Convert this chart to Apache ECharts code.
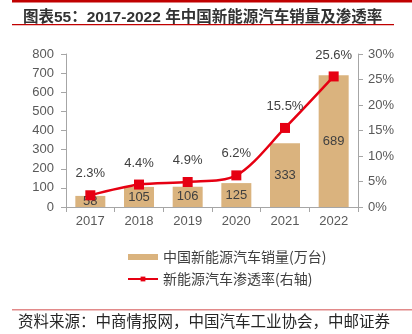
<!DOCTYPE html>
<html><head><meta charset="utf-8">
<script src="https://cdn.jsdelivr.net/npm/echarts@6/dist/echarts.min.js"></script>
<style>html,body{margin:0;padding:0;background:#fff}#c{width:412px;height:334px}</style>
</head><body><div id="c"></div>
<script>
var years = ['2017','2018','2019','2020','2021','2022'];
var sales = [58, 105, 106, 125, 333, 689];
var penetration = [2.3, 4.4, 4.9, 6.2, 15.5, 25.6];
var titleText = '图表55：2017-2022 年中国新能源汽车销量及渗透率';
var sourceText = '资料来源：中商情报网，中国汽车工业协会，中邮证券';
var salesName = '中国新能源汽车销量(万台)';
var rateName = '新能源汽车渗透率(右轴)';

var chart = echarts.init(document.getElementById('c'), null, {renderer:'canvas'});
var axisFont = {color:'#595959', fontSize:13, fontFamily:'Liberation Sans, Arial, sans-serif'};
chart.setOption({
  animation:false,
  title:{text:titleText, left:18, top:5, textStyle:{fontSize:15.5, fontWeight:'bold', color:'#333333', fontFamily:'Liberation Sans, Noto Sans CJK SC, sans-serif'}},
  graphic:[
    {type:'rect', shape:{x:12,y:0,width:400,height:2.5}, style:{fill:'#c00000'}},
    {type:'rect', shape:{x:12,y:24,width:382,height:1.2}, style:{fill:'#c00000'}},
    {type:'rect', shape:{x:12,y:309,width:400,height:1.5}, style:{fill:'#e28a8a'}},
    {type:'text', left:18, top:313, style:{text:sourceText, fontSize:15.5, fill:'#262626', fontFamily:'Noto Sans CJK SC, sans-serif'}}
  ],
  grid:{left:66, right:54, top:54, bottom:127},
  legend:{
    orient:'vertical', left:122, top:245, itemWidth:30, itemHeight:6, itemGap:8,
    textStyle:{fontSize:14, color:'#404040', fontFamily:'Noto Sans CJK SC, sans-serif'},
    data:[{name:salesName, icon:'rect'}, {name:rateName}]
  },
  xAxis:{type:'category', data:years, boundaryGap:true,
    axisLine:{lineStyle:{color:'#a6a6a6'}},
    axisTick:{show:true, alignWithLabel:false, length:5, lineStyle:{color:'#a6a6a6'}},
    axisLabel:Object.assign({margin:8}, axisFont)},
  yAxis:[
    {type:'value', min:0, max:800, interval:100, splitLine:{show:false},
     axisLine:{show:true, lineStyle:{color:'#a6a6a6'}},
     axisTick:{show:true, length:5, lineStyle:{color:'#a6a6a6'}},
     axisLabel:Object.assign({margin:12}, axisFont)},
    {type:'value', min:0, max:30, interval:5, splitLine:{show:false},
     axisLine:{show:true, lineStyle:{color:'#a6a6a6'}},
     axisTick:{show:true, length:5, lineStyle:{color:'#a6a6a6'}},
     axisLabel:Object.assign({margin:10, formatter:'{value}%'}, axisFont)}
  ],
  series:[
    {name:salesName, type:'bar', data:sales, barWidth:30,
     itemStyle:{color:'#dab37e'},
     label:{show:true, position:'inside', color:'#404040', fontSize:13, fontFamily:'Liberation Sans, Arial, sans-serif'}},
    {name:rateName, type:'line', yAxisIndex:1, data:penetration, smooth:0.3,
     symbol:'rect', symbolSize:10,
     lineStyle:{color:'#e60012', width:2.5}, itemStyle:{color:'#e60012'},
     label:{show:true, position:'top', distance:10, formatter:function(p){return p.value.toFixed(1)+'%';}, color:'#404040', fontSize:13, fontFamily:'Liberation Sans, Arial, sans-serif'}}
  ]
});
</script></body></html>
